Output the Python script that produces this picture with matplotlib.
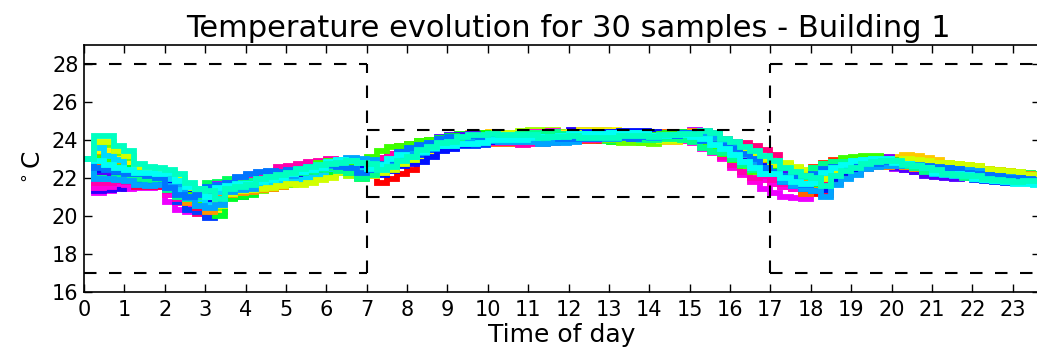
import numpy as np
import matplotlib
matplotlib.use('Agg')
import matplotlib.pyplot as plt

# quarter-hour time grid of the samples
hours = np.arange(96) * 0.25

# mean temperature of the 30 samples, read per quarter hour
base_temp = [
    23.0, 22.6, 22.4, 22.3,   22.1, 22.0, 22.0, 21.95,  21.9, 21.3, 20.9, 20.8,
    20.7, 21.3, 21.4, 21.5,   21.7, 21.8, 21.9, 22.0,   22.1, 22.2, 22.3, 22.4,
    22.6, 22.7, 22.6, 22.5,   22.4, 22.6, 22.9, 23.1,   23.3, 23.5, 23.7, 23.8,
    23.9, 24.0, 24.0, 24.05,  24.1, 24.1, 24.1, 24.1,   24.1, 24.15, 24.15, 24.2,
    24.2, 24.2, 24.2, 24.2,   24.15, 24.15, 24.15, 24.1, 24.1, 24.1, 24.15, 24.15,
    24.2, 24.1, 23.8, 23.6,   23.4, 23.1, 22.8, 22.5,   22.3, 22.1, 21.9, 21.8,
    21.65, 22.2, 22.45, 22.6, 22.7, 22.8, 22.85, 22.85, 22.8, 22.75, 22.65, 22.55,
    22.45, 22.4, 22.35, 22.3, 22.2, 22.15, 22.1, 22.05, 22.0, 22.0, 21.95, 21.9,
]

# half width of the band of samples, per quarter hour
band_halfwidth = [
    0.0, 1.6, 1.3, 1.1,    0.8, 0.7, 0.65, 0.6,   0.6, 0.9, 1.0, 1.0,
    1.0, 0.6, 0.55, 0.6,   0.6, 0.65, 0.65, 0.65, 0.65, 0.65, 0.6, 0.6,
    0.55, 0.6, 0.7, 0.75,  0.8, 0.85, 0.85, 0.85, 0.9, 0.75, 0.6, 0.55,
    0.5, 0.5, 0.5, 0.5,    0.5, 0.5, 0.5, 0.5,    0.5, 0.5, 0.5, 0.5,
    0.5, 0.5, 0.5, 0.5,    0.5, 0.5, 0.5, 0.5,    0.5, 0.5, 0.5, 0.5,
    0.55, 0.5, 0.5, 0.55,  0.6, 0.8, 0.95, 1.0,   1.0, 1.0, 1.0, 0.95,
    0.95, 0.8, 0.7, 0.65,  0.6, 0.55, 0.5, 0.5,   0.55, 0.55, 0.55, 0.55,
    0.55, 0.55, 0.55, 0.55, 0.55, 0.55, 0.55, 0.55, 0.55, 0.55, 0.55, 0.55,
]

# position of each sample inside the band (tenths of the half width), per hour
sample_levels = [
    [-6, -5, -3, -2, -1, 0, 1, -8, -2, -1, 0, 2, 3, 1, -2, -4, -6, -7, -4, -1, 2, 4, 5, 3],
    [-9, -8, -6, -3, 0, 3, 4, 2, -1, -3, -5, -2, 1, 3, 4, 2, -6, -9, -8, -3, 0, 1, -1, -2],
    [4, 3, 1, -3, -5, -4, -1, 2, 5, 7, 5, 3, 0, -2, -4, -5, -2, 1, 3, 5, 7, 6, 4, 2],
    [-8, -4, 0, 3, 2, 0, -2, -4, -6, -3, 1, 4, 6, 3, 0, -2, 1, 3, 0, -3, -5, -4, -2, 0],
    [6, 7, 5, 2, -1, -3, -5, -3, 0, 3, 5, 7, 4, 1, -2, -4, -6, -3, 1, 4, 2, 0, -2, -3],
    [-3, -6, -8, -5, -2, 1, 3, 5, 3, 0, -3, -5, -3, 0, 2, 5, 7, 4, 1, -2, -4, -2, 1, 3],
    [2, 0, -2, -1, 3, 5, 4, 1, -2, -4, -6, -3, 0, 3, 5, 2, -1, -4, -5, -2, 2, 5, 6, 4],
    [-5, -2, 1, 4, 6, 4, 1, -1, -3, -5, -2, 0, 2, 4, 1, -2, -4, -1, 3, 5, 3, 0, -3, -5],
    [3, 5, 3, 0, -4, -6, -3, 0, 4, 6, 3, 0, -3, -5, -2, 1, 4, 6, 3, -1, -3, -5, -3, 0],
    [-7, -5, -2, 1, 3, 1, -2, -5, -3, 0, 2, 5, 3, 0, -3, -5, -7, -4, 0, 2, 4, 2, -1, -3],
    [5, 2, -1, -4, -2, 1, 3, 0, -3, -1, 2, 4, 6, 4, 1, -1, -3, -5, -2, 1, 3, 1, -2, -4],
    [-2, -4, -6, -8, -5, -2, 0, -2, -4, -6, -4, -1, 1, -1, -3, -5, -3, 0, 2, -1, -3, -5, -6, -4],
    [1, 3, 5, 7, 4, 0, -3, -6, -4, -1, 2, 0, -2, -4, -1, 2, 5, 3, 0, -3, -1, 2, 4, 6],
    [-4, -7, -5, -2, 0, -2, -4, -1, 2, 4, 1, -2, -4, -2, 1, 3, 0, -3, -6, -4, -1, 1, 3, 2],
    [0, 2, 4, 2, -1, -3, -1, 2, 4, 1, -1, -3, -5, -2, 0, 3, 5, 7, 5, 2, -1, -3, -1, 1],
    [-1, 1, 3, 6, 4, 2, -1, -4, -2, 1, 3, 1, -1, 2, 4, 6, 3, 0, -2, -4, -6, -3, 0, 2],
    [7, 4, 0, -3, -6, -4, -1, 3, 6, 3, 0, -2, -4, -6, -3, 0, 2, -1, -3, -1, 1, 3, 1, -1],
    [-2, 0, 2, -1, -3, -5, -2, 1, 3, 5, 2, -1, -3, -1, 2, 4, 6, 3, 0, -2, -4, -6, -4, -2],
    [2, -1, -4, -7, -4, -1, 2, 5, 7, 4, 1, -1, 1, 3, 5, 2, -1, -4, -2, 1, 3, 5, 3, 0],
    [-5, -3, 0, 2, 5, 7, 5, 2, -1, -3, -5, -7, -4, -1, 1, -2, -5, -2, 1, 4, 2, -1, -3, -2],
    [3, 1, -2, -5, -7, -4, -1, 1, 3, 1, -2, -4, -2, 1, 3, 5, 2, 0, -3, -5, -3, 0, 2, 4],
    [-1, -3, -1, 2, 4, 2, -1, -3, -5, -3, -1, 2, 4, 6, 4, 1, -2, -5, -3, 0, 2, 0, -2, -4],
    [5, 6, 3, 1, -2, 0, 3, 6, 4, 2, -1, -3, -1, 1, 3, 0, -2, 1, 4, 6, 4, 2, 0, -1],
    [6, 3, 1, -1, -3, -5, -2, 0, 2, -1, -3, -1, 2, 4, 2, -1, -3, -1, 2, 0, -2, -4, -2, 1],
    [8, 6, 2, -2, -5, -7, -5, -2, 1, 3, 5, 3, 1, -1, -3, -1, 2, 5, 3, 1, 4, 6, 5, 3],
    [-3, -1, 1, 3, 1, -1, -3, -5, -2, 0, 2, 4, 2, 0, -2, -4, -1, 2, 4, 2, 0, -2, -4, -3],
    [-4, -6, -4, -1, 2, 4, 6, 3, 0, -2, -4, -6, -3, 0, 2, 0, -3, -5, -7, -4, -1, 1, -1, -3],
    [1, 3, 2, 4, 6, 3, 0, -2, 1, 3, 1, -1, -3, -1, 1, 3, 5, 2, 0, -2, 1, 3, 1, 0],
    [2, 4, 6, 3, 0, 2, 4, 1, -2, -4, -2, 0, 2, 4, 2, -1, -3, -1, 1, 3, 0, -3, -5, -6],
    [10, 8, 5, 2, 4, 6, 3, 0, 2, 5, 3, 0, -2, 1, 3, 5, 4, 2, -1, 1, -2, -4, -5, -3],
]

# delay of each sample's staircase, in quarter hours
sample_lags = [1, -1, 1, 0, -1, 1, -1, 0, 0, -1, 1, 0, -1, 1, -1,
               0, 1, -1, 1, -1, 0, 1, -1, 0, 1, -1, 1, -1, 0, 1]

# hue step (of 30 around the hsv wheel) of each sample, in drawing order
sample_hues = [0, 25, 4, 21, 7, 28, 2, 23, 10, 26, 5, 19, 12, 29, 1,
               24, 8, 22, 11, 27, 3, 20, 9, 16, 6, 13, 17, 18, 15, 14]

# comfort bounds
bound_hours = [0, 7, 17, 24]
upper_bound = [28, 24.5, 28]
lower_bound = [17, 21, 17]

fig = plt.figure(figsize=(10.37, 3.6), dpi=100)
ax = fig.add_axes([0.081, 0.189, 0.922, 0.686])

cmap = plt.get_cmap('hsv')
idx = np.arange(len(hours))
base = np.array(base_temp)
width = np.array(band_halfwidth)
for lev, lag, hue in zip(sample_levels, sample_lags, sample_hues):
    j = np.clip(idx - lag, 1, len(hours) - 1)
    j[0] = 0
    temp = base[j] + 0.1 * np.array(lev)[j // 4] * width[j]
    ax.plot(hours, temp, drawstyle='steps-post', color=cmap(hue / 30.0), lw=4.2,
            solid_joinstyle='miter')

dash = dict(color='k', lw=1.5, linestyles=(0, (6, 6)))
ax.hlines(upper_bound, bound_hours[:-1], bound_hours[1:], **dash)
ax.hlines(lower_bound, bound_hours[:-1], bound_hours[1:], **dash)
ax.vlines(bound_hours[1:-1], 17, 28, **dash)

ax.set_xlim(0, 23.68)
ax.set_ylim(16, 29)
ax.set_xticks(range(24))
ax.set_yticks(range(16, 29, 2))
ax.tick_params(direction='in', top=True, right=True, length=6, width=1,
               labelsize=15)
ax.tick_params(axis='x', pad=6)
ax.tick_params(axis='y', pad=4)
for s in ax.spines.values():
    s.set_linewidth(1.2)

ax.set_title('Temperature evolution for 30 samples - Building 1', fontsize=22,
             pad=6, x=0.507)
ax.set_xlabel('Time of day', fontsize=18, labelpad=2)
ax.set_ylabel(r'$^\circ$C', fontsize=18)

fig.savefig('out.png', dpi=100)
